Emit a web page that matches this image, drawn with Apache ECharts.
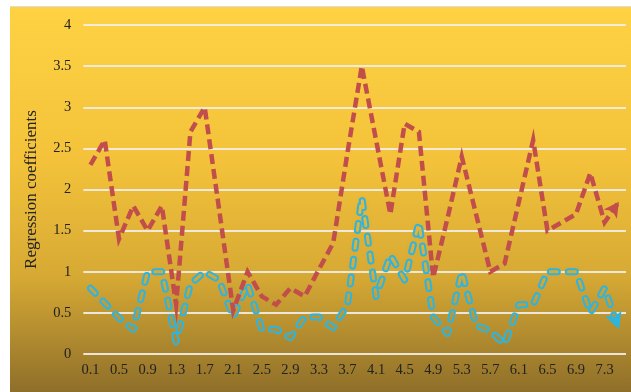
<!DOCTYPE html>
<html>
<head>
<meta charset="utf-8">
<script src="https://cdn.jsdelivr.net/npm/echarts@6/dist/echarts.min.js"></script>
<style>
  html, body { margin: 0; padding: 0; background: #ffffff; }
  #chart { position: absolute; left: 10px; top: 6px; width: 621px; height: 386px; border-top: 1px solid #dcdcdc; }
</style>
</head>
<body>
<div id="chart"></div>
<script>
// x positions (step 0.2); every other one is labelled
const positions = ['0.1','0.3','0.5','0.7','0.9','1.1','1.3','1.5','1.7','1.9',
                   '2.1','2.3','2.5','2.7','2.9','3.1','3.3','3.5','3.7','3.9',
                   '4.1','4.3','4.5','4.7','4.9','5.1','5.3','5.5','5.7','5.9',
                   '6.1','6.3','6.5','6.7','6.9','7.1','7.3','7.5'];

const redCoefficients = [2.3, 2.6, 1.4, 1.8, 1.5, 1.8, 0.6, 2.7, 3.0, 1.77,
                         0.53, 1.0, 0.7, 0.6, 0.8, 0.7, 1.03, 1.35, 2.45, 3.5,
                         2.6, 1.7, 2.8, 2.7, 0.93, 1.65, 2.4, 1.7, 1.0, 1.1,
                         1.85, 2.6, 1.5, 1.6, 1.7, 2.2, 1.6, 1.85];

const blueCoefficients = [0.8, 0.62, 0.44, 0.3, 1.0, 1.0, 0.15, 0.85, 1.0, 0.9,
                          0.45, 0.85, 0.3, 0.3, 0.2, 0.45, 0.45, 0.32, 0.6, 1.9,
                          0.7, 1.2, 0.9, 1.6, 0.45, 0.25, 1.0, 0.35, 0.28, 0.12,
                          0.6, 0.6, 1.0, 1.0, 1.0, 0.5, 0.8, 0.3];

const yTicks = { min: 0, max: 4, step: 0.5 };

const RED = '#C24E4B';
const BLUE = '#2BB5E0';
const SERIF = '"Liberation Serif", "DejaVu Serif", serif';
const CHART_H = 386;

const bgStops = [
  { offset: 0, color: '#FED243' },
  { offset: 0.4, color: '#F3C23A' },
  { offset: 0.7, color: '#D6A934' },
  { offset: 1, color: '#8E6F2A' }
];
const bgGradient = { type: 'linear', x: 0, y: 0, x2: 0, y2: CHART_H, global: true, colorStops: bgStops };

// last point of a series carries an arrow head
function withArrow(values, color, rotate, size) {
  return values.map((v, i) => i === values.length - 1
    ? { value: v, symbol: 'arrow', symbolSize: size, symbolRotate: rotate,
        itemStyle: { color: color, borderWidth: 0 } }
    : v);
}

const chart = echarts.init(document.getElementById('chart'), null, { renderer: 'canvas' });

function buildOption(redRot, blueRot) {
  return {
    backgroundColor: bgGradient,
    animation: false,
    grid: { left: 73.3, right: 5, top: 18, bottom: 39, containLabel: false },
    xAxis: {
      type: 'category',
      data: positions,
      boundaryGap: true,
      axisLine: { show: false },
      axisTick: { show: false },
      axisLabel: { interval: 1, margin: 9, color: '#222', fontFamily: SERIF, fontSize: 14.5 },
      splitLine: { show: false }
    },
    yAxis: {
      type: 'value',
      min: yTicks.min, max: yTicks.max, interval: yTicks.step,
      name: 'Regression coefficients',
      nameLocation: 'middle',
      nameGap: 43,
      nameTextStyle: { color: '#222', fontFamily: SERIF, fontSize: 17 },
      axisLine: { show: false },
      axisTick: { show: false },
      axisLabel: { margin: 12, color: '#222', fontFamily: SERIF, fontSize: 14.5 },
      splitLine: { lineStyle: { color: 'rgba(240,238,232,0.92)', width: 2 } }
    },
    series: [
      {
        // hollow dashes: a wide blue stroke ...
        name: 'blue-outline',
        type: 'line',
        data: blueCoefficients,
        symbol: 'none',
        z: 2,
        lineStyle: { color: BLUE, width: 7, type: [7, 11], cap: 'round', join: 'round',
                     shadowColor: 'rgba(240,150,40,0.3)', shadowBlur: 3 }
      },
      {
        // ... with a background-coloured core, plus the arrow head
        name: 'blue-core',
        type: 'line',
        data: withArrow(blueCoefficients, BLUE, blueRot, [13, 17]),
        symbol: 'none',
        showAllSymbol: true,
        z: 3,
        silent: true,
        lineStyle: { color: bgGradient, width: 3, type: [7, 11], cap: 'round', join: 'round' }
      },
      {
        name: 'red',
        type: 'line',
        data: withArrow(redCoefficients, RED, redRot, [12, 15]),
        symbol: 'none',
        showAllSymbol: true,
        z: 4,
        lineStyle: { color: RED, width: 4.5, type: [10, 5], cap: 'butt', join: 'miter' }
      }
    ]
  };
}

chart.setOption(buildOption(0, 0));

// orient each arrow head along its final segment
function headingDeg(values) {
  const n = values.length;
  const a = chart.convertToPixel({ xAxisIndex: 0, yAxisIndex: 0 }, [n - 2, values[n - 2]]);
  const b = chart.convertToPixel({ xAxisIndex: 0, yAxisIndex: 0 }, [n - 1, values[n - 1]]);
  const ang = Math.atan2(-(b[1] - a[1]), b[0] - a[0]) * 180 / Math.PI;
  return ang - 90;
}
chart.setOption(buildOption(headingDeg(redCoefficients), headingDeg(blueCoefficients)));
</script>
</body>
</html>
